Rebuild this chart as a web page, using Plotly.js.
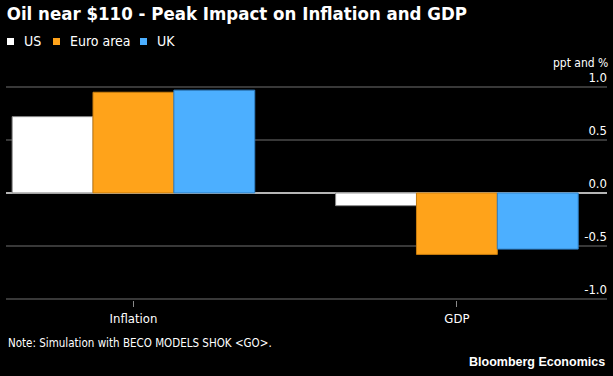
<!DOCTYPE html>
<html><head><meta charset="utf-8">
<script src="https://cdn.plot.ly/plotly-3.0.1.min.js"></script>
<style>html,body{margin:0;padding:0;background:#000;}#chart{width:613px;height:376px;}</style>
</head><body><div id="chart"></div>
<script>
const categories = ["Inflation", "GDP"];
const seriesNames = ["US", "Euro area", "UK"];
const usValues = [0.72, -0.12];
const euroValues = [0.95, -0.58];
const ukValues = [0.97, -0.53];
const yTickVals = [-1, -0.5, 0, 0.5, 1];
const yTickText = ["-1.0", "-0.5", "0.0", "0.5", "1.0"];
const titleText = "Oil near $110 - Peak Impact on Inflation and GDP";
const unitText = "ppt and %";
const noteText = "Note: Simulation with BECO MODELS SHOK &lt;GO&gt;.";
const sourceText = "Bloomberg Economics";

const colors = ["#ffffff", "#ffa31a", "#4cafff"];
const outlines = ["#8a8a8a", "#c87d0e", "#2f7fc4"];
const narrow = "Liberation Sans Narrow, DejaVu Sans Condensed, Arial Narrow, sans-serif";
const values = [usValues, euroValues, ukValues];

const traces = seriesNames.map((name, i) => ({
  type: "bar", name: name, x: categories, y: values[i],
  marker: {color: colors[i], line: {color: outlines[i], width: 1}},
  showlegend: false, hoverinfo: "skip"
}));

// custom legend (small squares + labels)
const legendX = [1, 47, 134];
const shapes = seriesNames.map((n, i) => ({
  type: "rect", xref: "paper", yref: "paper",
  xsizemode: "pixel", ysizemode: "pixel", xanchor: 0, yanchor: 1,
  x0: legendX[i], x1: legendX[i] + 7, y0: 25, y1: 32,
  fillcolor: colors[i], line: {width: 0}
}));
const annotations = seriesNames.map((n, i) => ({
  text: n, xref: "paper", yref: "paper", x: 0, y: 1,
  xanchor: "left", yanchor: "middle", xshift: legendX[i] + 15, yshift: 29,
  showarrow: false, font: {family: narrow, size: 14, color: "#ffffff"}
}));
annotations.push({
  text: unitText, xref: "paper", yref: "paper", x: 1, y: 1,
  xanchor: "right", yanchor: "middle", xshift: 3, yshift: 7, showarrow: false,
  font: {family: narrow, size: 12, color: "#ffffff"}
});
annotations.push({
  text: noteText, xref: "paper", yref: "paper", x: 0, y: 0,
  xanchor: "left", yanchor: "middle", yshift: -43, showarrow: false,
  font: {family: narrow, size: 11.5, color: "#ffffff"}
});
annotations.push({
  text: "<b>" + sourceText + "</b>", xref: "paper", yref: "paper", x: 1, y: 0,
  xanchor: "right", yanchor: "middle", yshift: -62, showarrow: false,
  font: {family: "Liberation Sans, Arial, sans-serif", size: 12.5, color: "#ffffff"}
});

const layout = {
  width: 613, height: 376,
  paper_bgcolor: "#000000", plot_bgcolor: "#000000",
  margin: {l: 6, r: 6, t: 70, b: 76, pad: 0},
  title: {text: "<b>" + titleText + "</b>", x: 0.011, xanchor: "left", xref: "container",
          y: 1 - 14 / 376, yanchor: "middle", yref: "container",
          font: {family: narrow, size: 18.5, color: "#ffffff"}},
  barmode: "group", bargap: 0.25, bargroupgap: 0,
  xaxis: {type: "category", range: [-0.394, 1.464], showgrid: false, zeroline: false,
          showline: false, ticks: "outside", ticklen: 6, tickwidth: 1, tickcolor: "#8a8a8a",
          tickfont: {family: narrow, size: 13, color: "#ffffff"}, fixedrange: true},
  yaxis: {side: "right", range: [-1.01, 1.16], tickmode: "array", tickvals: yTickVals,
          ticktext: yTickText, ticklabelposition: "inside top", ticklabelstandoff: -3, ticks: "",
          showgrid: true, gridcolor: "#383838", gridwidth: 1.5,
          zeroline: true, zerolinecolor: "#b5b5b5", zerolinewidth: 1.5, showline: false,
          tickfont: {family: narrow, size: 13, color: "#ffffff"}, fixedrange: true},
  shapes: shapes, annotations: annotations
};
Plotly.newPlot("chart", traces, layout, {staticPlot: true, displayModeBar: false});
</script></body></html>
